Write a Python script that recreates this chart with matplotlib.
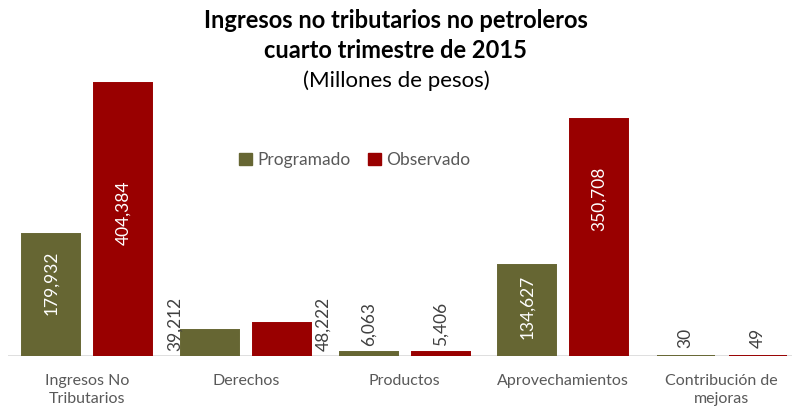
import matplotlib
matplotlib.use("Agg")
import matplotlib.pyplot as plt
from matplotlib.patches import Patch

categories = ["Ingresos No\nTributarios", "Derechos", "Productos", "Aprovechamientos", "Contribución de\nmejoras"]
programado = [179932, 39212, 6063, 134627, 30]
observado = [404384, 48222, 5406, 350708, 49]
series_names = ["Programado", "Observado"]

OLIVE = "#666633"
RED = "#990000"
GRAY = "#595959"
DARK = "#404040"
FONT = "Lato"

W, H = 792, 408
fig = plt.figure(figsize=(W / 100, H / 100), dpi=100)

base_px = 356
top_px = 52
left_px, right_px = 8, 801
ax = fig.add_axes([left_px / W, (H - base_px) / H, (right_px - left_px) / W, (base_px - top_px) / H])
ymax = 450000
ax.set_ylim(0, ymax)
ax.set_xlim(-0.5, len(categories) - 0.5)

upp = ymax / (base_px - top_px)  # data units per pixel (y)
xpp = len(categories) / (right_px - left_px)  # data units per pixel (x)

bw = 58 * xpp
off = 36 * xpp
xs = list(range(len(categories)))
ax.bar([x - off for x in xs], programado, width=bw, color=OLIVE, edgecolor=OLIVE, lw=1.4, zorder=2)
ax.bar([x + off for x in xs], observado, width=bw, color=RED, edgecolor=RED, lw=1.4, zorder=2)

for s in ax.spines.values():
    s.set_visible(False)
ax.axhline(0, color="#d9d9d9", lw=1.2, zorder=1)
ax.set_yticks([])
ax.set_xticks(xs)
ax.set_xticklabels(categories, fontsize=11.5, color=GRAY, family=FONT, linespacing=1.4)
ax.tick_params(axis="x", length=0, pad=13)

def fmt(v):
    return f"{v:,}"

def label(x, y, v, color, va):
    ax.text(x, y, fmt(v), rotation=90, ha="center", va=va, color=color,
            fontsize=12.5, family=FONT, zorder=3)

# inside labels (centres in px above baseline)
label(0 - off, 73 * upp, programado[0], "white", "center")
label(0 + off, 143 * upp, observado[0], "white", "center")
label(3 - off, 49 * upp, programado[3], "white", "center")
label(3 + off, 157 * upp, observado[3], "white", "center")
# outside labels
label(1 - off - 35 * xpp, 5 * upp, programado[1], DARK, "bottom")
label(1 + off + 42 * xpp, 5 * upp, observado[1], DARK, "bottom")
label(2 - off, 10 * upp, programado[2], DARK, "bottom")
label(2 + off, 10 * upp, observado[2], DARK, "bottom")
label(4 - off, 8 * upp, programado[4], DARK, "bottom")
label(4 + off, 8 * upp, observado[4], DARK, "bottom")

handles = [Patch(color=OLIVE), Patch(color=RED)]
leg = fig.legend(handles, series_names, loc="center", bbox_to_anchor=(355 / W, 1 - 160 / H),
                 ncol=2, frameon=False, handlelength=0.75, handleheight=0.75,
                 handletextpad=0.3, columnspacing=1.0,
                 prop={"family": FONT, "size": 12.5})
for t in leg.get_texts():
    t.set_color(GRAY)

fig.text(0.5, 1 - 20 / H, "Ingresos no tributarios no petroleros", ha="center", va="center",
         fontsize=17, fontweight="bold", family=FONT, color="black")
fig.text(0.5, 1 - 50 / H, "cuarto trimestre de 2015", ha="center", va="center",
         fontsize=17, fontweight="bold", family=FONT, color="black")
fig.text(0.5, 1 - 81 / H, "(Millones de pesos)", ha="center", va="center",
         fontsize=16, family=FONT, color="black")

fig.savefig("out.png", dpi=100, facecolor="white")
